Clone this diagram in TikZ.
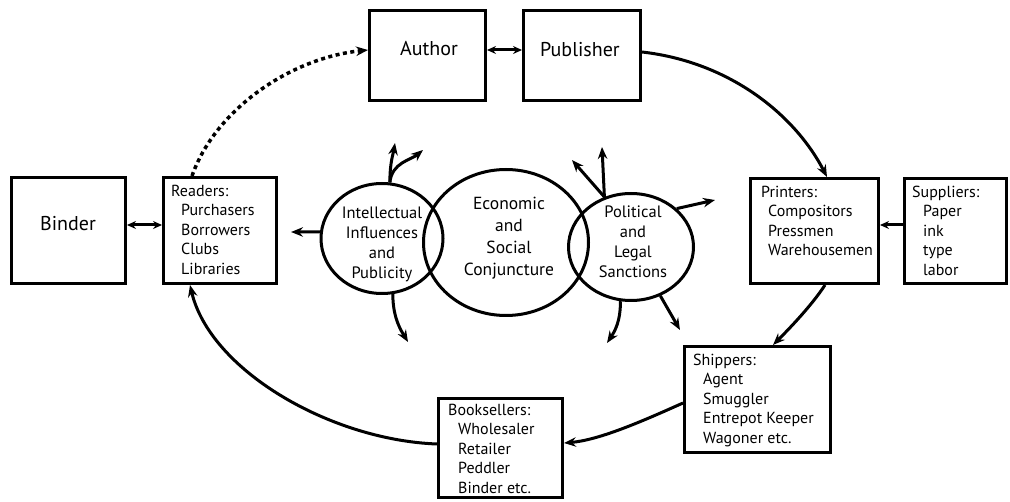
\documentclass[tikz,border=0pt]{standalone}
\usepackage{fontspec}
\setmainfont{PT Sans}
\usetikzlibrary{arrows.meta,shapes.geometric}
\newcommand\itind[1]{\hspace*{#1pt}}
\begin{document}
\begin{tikzpicture}[x=1pt,y=-1pt,
  box/.style={draw, line width=3pt, inner sep=0pt},
  lst/.style={inner sep=0pt, anchor=north west, align=left, font=\fontsize{16}{19.5}\selectfont},
  big/.style={inner sep=0pt, anchor=base, font=\fontsize{20}{24}\selectfont},
  circ/.style={draw, ellipse, line width=3pt, inner sep=0pt},
  ctext/.style={inner sep=0pt, anchor=north, align=center, font=\fontsize{16.5}{20}\selectfont},
  arr/.style={line width=3pt, -{Stealth[length=12pt,width=9.5pt,inset=4pt]}},
  dbl/.style={line width=3pt, {Stealth[length=9pt,width=8pt,inset=3pt]}-{Stealth[length=9pt,width=8pt,inset=3pt]}},
  dotarr/.style={line width=3.5pt, dash pattern=on 4pt off 3.5pt, -{Stealth[length=12pt,width=9.5pt,inset=4pt]}},
]
\useasboundingbox (0,0) rectangle (1010,502);

% boxes
\node[box, minimum width=114pt, minimum height=106pt] (binder) at (68.5,230.5) {};
\node[box, minimum width=113pt, minimum height=106pt] (readers) at (220,230.5) {};
\node[box, minimum width=116pt, minimum height=90pt] (author) at (427.5,55.5) {};
\node[box, minimum width=117pt, minimum height=90pt] (publisher) at (582,55.5) {};
\node[box, minimum width=128pt, minimum height=105pt] (printers) at (814.5,231) {};
\node[box, minimum width=102pt, minimum height=105pt] (suppliers) at (955.5,231) {};
\node[box, minimum width=146pt, minimum height=106pt] (shippers) at (757.5,399.5) {};
\node[box, minimum width=124pt, minimum height=99pt] (booksellers) at (500.5,448) {};

% ellipses
\node[circ, minimum width=122pt, minimum height=110pt] (intel) at (382,238.5) {};
\node[circ, minimum width=165pt, minimum height=146pt] (econ) at (506,242.5) {};
\node[circ, minimum width=125pt, minimum height=107pt] (polit) at (631,247) {};

% texts
\node[big] (binderT) at (68,231) {Binder};
\node[big] (authorT) at (429,56) {Author};
\node[big] (publisherT) at (580,57) {Publisher};

\node[lst] (readersT) at (171,184.5) {Readers:\\\itind{10}Purchasers\\\itind{10}Borrowers\\\itind{10}Clubs\\\itind{10}Libraries};
\node[lst] (printersT) at (761,185.5) {Printers:\\\itind{7}Compositors\\\itind{7}Pressmen\\\itind{7}Warehousemen};
\node[lst] (suppliersT) at (912,185.5) {Suppliers:\\\itind{11}Paper\\\itind{11}ink\\\itind{11}type\\\itind{11}labor};
\node[lst] (shippersT) at (693,353.5) {Shippers:\\\itind{10}Agent\\\itind{10}Smuggler\\\itind{10}Entrepot Keeper\\\itind{10}Wagoner etc.};
\node[lst] (booksellersT) at (448,403.5) {Booksellers:\\\itind{10}Wholesaler\\\itind{10}Retailer\\\itind{10}Peddler\\\itind{10}Binder etc.};

\node[ctext] (intelT) at (382,206.5) {Intellectual\\Influences\\and\\Publicity};
\node[ctext, font=\fontsize{17.5}{22}\selectfont] (econT) at (509,197) {Economic\\and\\Social\\Conjuncture};
\node[ctext] (politT) at (633,205.5) {Political\\and\\Legal\\Sanctions};

% free ends
\coordinate (il) at (291,232);
\coordinate (iu) at (395,143);
\coordinate (id) at (423,150);
\coordinate (ib) at (408,342);
\coordinate (pu) at (602,147);
\coordinate (pd) at (572,160);
\coordinate (pr) at (715,200);
\coordinate (pb) at (607,343);
\coordinate (pbr) at (680,330);

% connectors
\draw[dbl] ([yshift=5.5pt]binder.east) -- ([yshift=5.5pt]readers.west);
\draw[dbl] ([yshift=5.5pt]author.east) -- ([yshift=5.5pt]publisher.west);
\draw[arr, -{Stealth[length=9pt,width=8pt,inset=3pt]}] ([yshift=6pt]suppliers.west) -- ([yshift=6pt]printers.east);

\draw[arr] ([yshift=3.5pt]publisher.east) .. controls (730,62) and (795,115) .. ([xshift=12.5pt]printers.north);
\draw[arr] ([xshift=10.5pt]printers.south) .. controls (812,305) and (790,328) .. ([xshift=15.5pt]shippers.north);
\draw[arr] ([yshift=-3.5pt]shippers.west) .. controls (645,420) and (600,440) .. ([yshift=5pt]booksellers.east);
\draw[arr] ([yshift=4pt]booksellers.west) .. controls (330,440) and (210,370) .. ([xshift=-30pt]readers.south);
\draw[dotarr] ([xshift=-28pt]readers.north) .. controls (215,110) and (290,58) .. ([yshift=5.5pt]author.west);

% ellipse arrows
\draw[arr] (intel.174) -- (il);
\draw[arr] (intel.82) .. controls +(0,-20) and +(-2,12) .. (iu);
\draw[arr] (intel.82) .. controls +(2,-20) and +(-12,10) .. (id);
\draw[arr] (intel.281) .. controls +(0,25) and +(-6,-10) .. (ib);
\draw[arr] (polit.118) -- (pu);
\draw[arr] (polit.118) -- (pd);
\draw[arr] (polit.40) -- (pr);
\draw[arr] (polit.259) .. controls +(0,20) and +(8,-12) .. (pb);
\draw[arr] (polit.301) -- (pbr);
\end{tikzpicture}
\end{document}
